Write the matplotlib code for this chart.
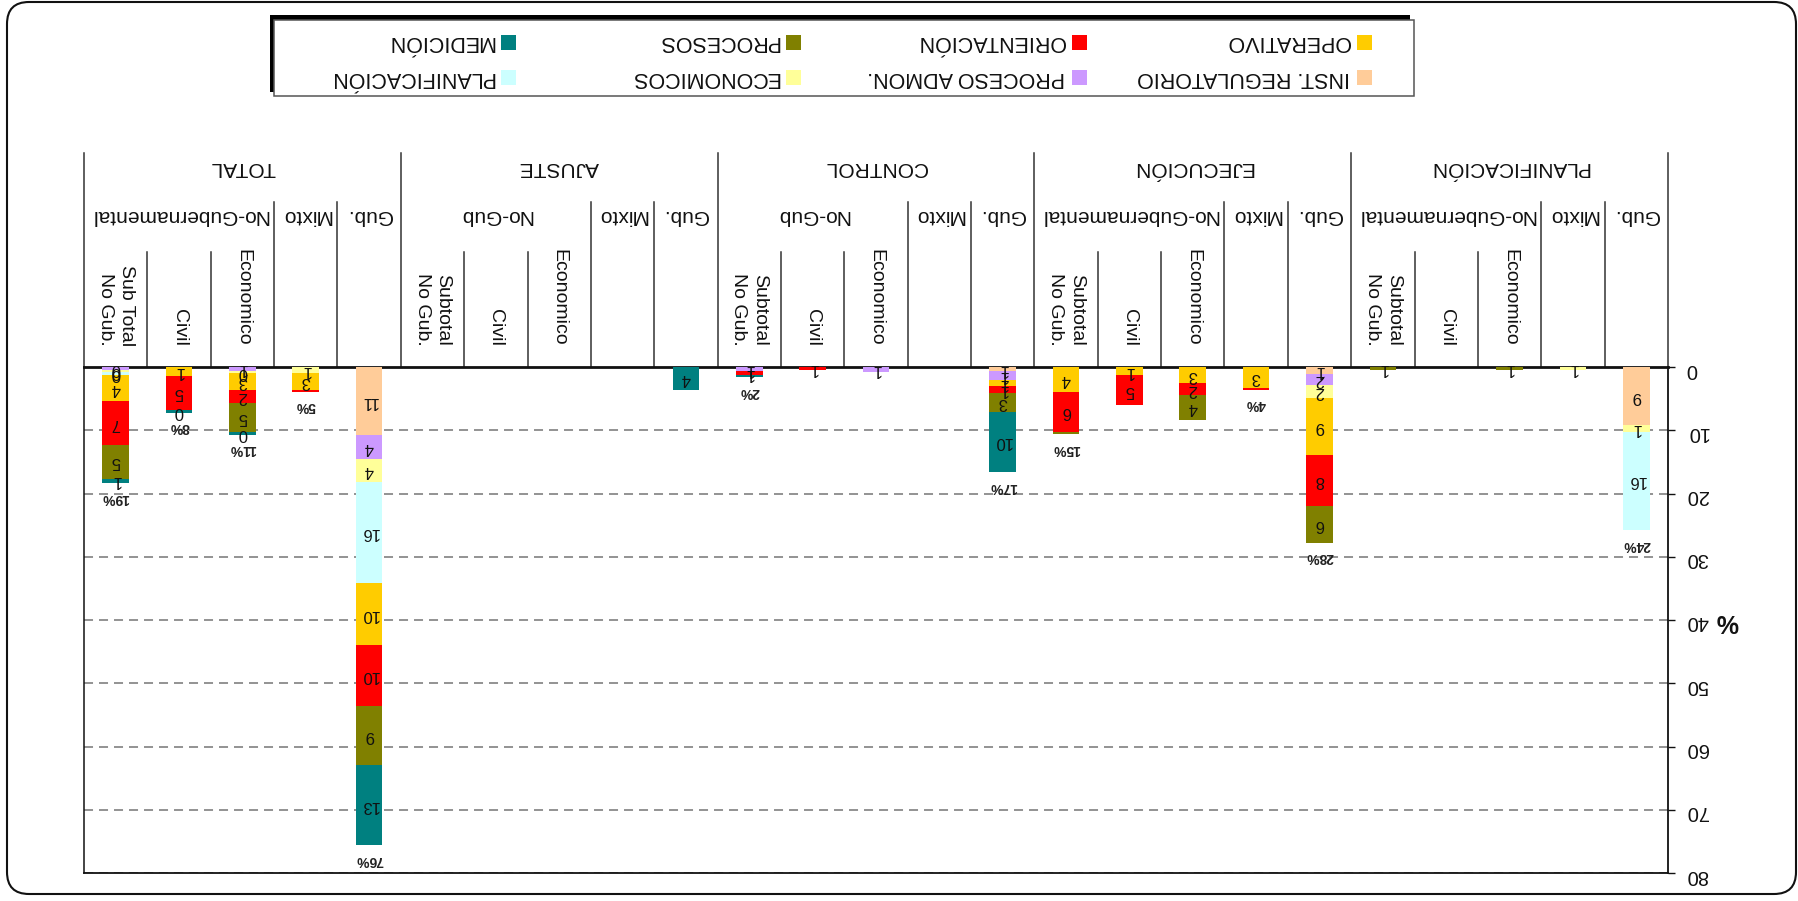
import matplotlib
matplotlib.use("Agg")
import matplotlib.pyplot as plt
from matplotlib import font_manager
from matplotlib.patches import Rectangle, FancyBboxPatch
from matplotlib.lines import Line2D
from matplotlib.transforms import blended_transform_factory, IdentityTransform
import numpy as np

# ---------------------------------------------------------------- data
groups = ["PLANIFICACIÓN", "EJECUCIÓN", "CONTROL", "AJUSTE", "TOTAL"]
nogub_headers = ["No-Gubernamental", "No-Gubernamental", "No-Gub", "No-Gub", "No-Gubernamental"]
sector_headers = ["Gub.", "Mixto"]
nogub_parts = ["Economico", "Civil", "Subtotal\nNo Gub."]
total_subtotal_label = "Sub Total\nNo Gub."

series_names = ["INST. REGULATORIO", "PROCESO ADMON.", "ECONOMICOS", "PLANIFICACIÓN",
                "OPERATIVO", "ORIENTACIÓN", "PROCESOS", "MEDICIÓN"]
series_colors = ["#FFCC99", "#CC99FF", "#FFFF99", "#CCFFFF",
                 "#FFCC00", "#FF0000", "#808000", "#008080"]

# 25 columns: for each group -> Gub., Mixto, Economico, Civil, Subtotal No Gub.
inst_regulatorio = [9.2, 0, 0, 0, 0,   1.1, 0, 0, 0, 0,     0.7, 0, 0, 0, 0,
                    0, 0, 0, 0, 0,     10.8, 0, 0, 0, 0]
proceso_admon    = [0, 0, 0, 0, 0,     1.7, 0, 0, 0, 0,     1.4, 0, 0.8, 0, 0.7,
                    0, 0, 0, 0, 0,     3.8, 0, 0.6, 0, 0.45]
economicos       = [1.0, 0.55, 0, 0, 0, 2.1, 0, 0, 0, 0,    0, 0, 0, 0, 0,
                    0, 0, 0, 0, 0,     3.6, 0.95, 0.4, 0, 0.4]
planificacion    = [15.6, 0, 0, 0, 0,  0, 0, 0, 0, 0,       0, 0, 0, 0, 0,
                    0, 0, 0, 0, 0,     16.0, 0, 0, 0, 0.4]
operativo        = [0, 0, 0, 0, 0,     9.0, 3.3, 2.6, 1.3, 3.9, 0.95, 0, 0, 0, 0,
                    0, 0, 0, 0, 0,     9.8, 2.7, 2.6, 1.4, 4.2]
orientacion      = [0, 0, 0, 0, 0,     8.1, 0.3, 1.9, 4.7, 6.4, 1.1, 0, 0, 0.55, 0.63,
                    0, 0, 0, 0, 0,     9.6, 0.26, 2.05, 5.4, 6.9]
procesos         = [0, 0, 0.55, 0, 0.55, 5.8, 0, 3.9, 0, 0.3, 2.9, 0, 0, 0, 0,
                    0, 0, 0, 0, 0,     9.4, 0, 4.6, 0, 5.3]
medicion         = [0, 0, 0, 0, 0,     0, 0, 0, 0, 0,       9.6, 0, 0, 0, 0.26,
                    3.6, 0, 0, 0, 0,   12.6, 0, 0.45, 0.45, 0.74]

# column totals printed under the stacks (None = not shown)
total_labels = ["24%", None, None, None, None,  "28%", "4%", None, None, "15%",
                "17%", None, None, None, "2%",  None, None, None, None, None,
                "76%", "5%", "11%", "8%", "19%"]

y_ticks = [0, 10, 20, 30, 40, 50, 60, 70, 80]

series_values = [inst_regulatorio, proceso_admon, economicos, planificacion,
                 operativo, orientacion, procesos, medicion]

# ---------------------------------------------------------------- fonts
_names = {f.name for f in font_manager.fontManager.ttflist}
NARROW = "Liberation Sans Narrow" if "Liberation Sans Narrow" in _names else "Liberation Sans"
REGULAR = "Liberation Sans"
plt.rcParams["font.family"] = [NARROW, "DejaVu Sans"]
plt.rcParams["lines.scale_dashes"] = False

W, H = 1798, 901


def fx(px):
    return px / W


def fy(py):
    return 1 - py / H


fig = plt.figure(figsize=(W / 100, H / 100), dpi=100)
fig.patch.set_facecolor("white")

# rounded outer frame
frame = FancyBboxPatch((7, H - 894), 1789, 892,
                       boxstyle="round,pad=0,rounding_size=22",
                       transform=IdentityTransform(), facecolor="none",
                       edgecolor="#111111", linewidth=1.5)
fig.add_artist(frame)

# plot area (upside-down layout: value axis grows downward, categories right-to-left)
ax = fig.add_axes([fx(84), fy(873), fx(1668) - fx(84), fy(367) - fy(873)])
n = len(inst_regulatorio)
x = np.arange(n)
ax.set_xlim(n - 0.5, -0.5)
ax.set_ylim(80, 0)
ax.set_facecolor("white")

ax.set_yticks(y_ticks)
ax.set_yticklabels([str(t) for t in y_ticks])
ax.yaxis.tick_right()
ax.tick_params(axis="y", direction="out", length=5, width=1.0, pad=8.0,
               labelsize=14.5, labelrotation=180, colors="#111111")
ax.set_xticks([])
ax.yaxis.grid(True, color="#808080", linewidth=1.2, linestyle=(0, (6.5, 4.3)))
ax.set_axisbelow(True)

for side, lw in [("top", 2.0), ("right", 1.3), ("left", 1.1), ("bottom", 1.3)]:
    ax.spines[side].set_linewidth(lw)
    ax.spines[side].set_color("#111111")

# stacked bars
bottom = np.zeros(n)
bar_w = 0.42
for vals, col in zip(series_values, series_colors):
    v = np.asarray(vals, dtype=float)
    ax.bar(x, v, width=bar_w, bottom=bottom, color=col, edgecolor="none",
           linewidth=0, zorder=3)
    for i in range(n):
        if v[i] >= 0.35:
            ax.text(x[i], bottom[i] + v[i] / 2, f"{v[i]:.0f}", rotation=180,
                    ha="center", va="center", fontsize=12, color="#111111",
                    zorder=5)
    bottom = bottom + v

for i in range(n):
    if total_labels[i]:
        ax.text(x[i], bottom[i] + 2.3, total_labels[i], rotation=180,
                ha="center", va="center", fontsize=10, fontweight="bold",
                color="#222222", zorder=5)

# category header: separators and texts
hdr = blended_transform_factory(ax.transData, fig.transFigure)
line_kw = dict(color="#333333", linewidth=1.1, transform=hdr, clip_on=False)
for g in range(len(groups) + 1):
    xb = -0.5 + 5 * g
    ax.add_line(Line2D([xb, xb], [fy(153), fy(367)], **line_kw))
for g in range(len(groups)):
    base = -0.5 + 5 * g
    for k in (1, 2):
        ax.add_line(Line2D([base + k, base + k], [fy(202), fy(367)], **line_kw))
    for k in (3, 4):
        ax.add_line(Line2D([base + k, base + k], [fy(252), fy(367)], **line_kw))

for g, name in enumerate(groups):
    c0 = 5 * g
    ax.text(c0 + 2, fy(168), name, transform=hdr, rotation=180, ha="center",
            va="center", fontsize=15, color="#111111", clip_on=False)
    for k, s in enumerate(sector_headers):
        ax.text(c0 + k, fy(216), s, transform=hdr, rotation=180, ha="center",
                va="center", fontsize=15, color="#111111", clip_on=False)
    ax.text(c0 + 3, fy(216), nogub_headers[g], transform=hdr, rotation=180,
            ha="center", va="center", fontsize=15, color="#111111", clip_on=False)
    parts = list(nogub_parts)
    if name == "TOTAL":
        parts[2] = total_subtotal_label
    for k, p in enumerate(parts):
        ax.text(c0 + 2 + k, fy(346), p, transform=hdr, rotation=270,
                ha="center", va="bottom", multialignment="right",
                fontsize=14, family=REGULAR, color="#111111",
                linespacing=1.3, clip_on=False)

# value-axis unit
fig.text(fx(1727), fy(621), "%", rotation=180, ha="center", va="center",
         fontsize=18, fontweight="bold", family=REGULAR, color="#111111")

# legend box with shadow
fig.add_artist(Rectangle((fx(270), fy(92)), fx(1410) - fx(270), fy(15) - fy(92),
                         transform=fig.transFigure, facecolor="black",
                         edgecolor="none"))
fig.add_artist(Rectangle((fx(274), fy(96)), fx(1414) - fx(274), fy(20) - fy(96),
                         transform=fig.transFigure, facecolor="white",
                         edgecolor="#555555", linewidth=1.1))
legend_rows = [(42, [4, 5, 6, 7]), (77, [0, 1, 2, 3])]
legend_cols = [1357, 1072, 786, 501]
for ypix, idxs in legend_rows:
    for xl, si in zip(legend_cols, idxs):
        fig.add_artist(Rectangle((fx(xl), fy(ypix + 7.5)), fx(15), 15 / H,
                                 transform=fig.transFigure,
                                 facecolor=series_colors[si], edgecolor="none"))
        fig.text(fx(xl - 7), fy(ypix), series_names[si], rotation=180,
                 ha="right", va="center", fontsize=15.5, color="#111111")

fig.savefig("out.png", dpi=100, facecolor="white")
